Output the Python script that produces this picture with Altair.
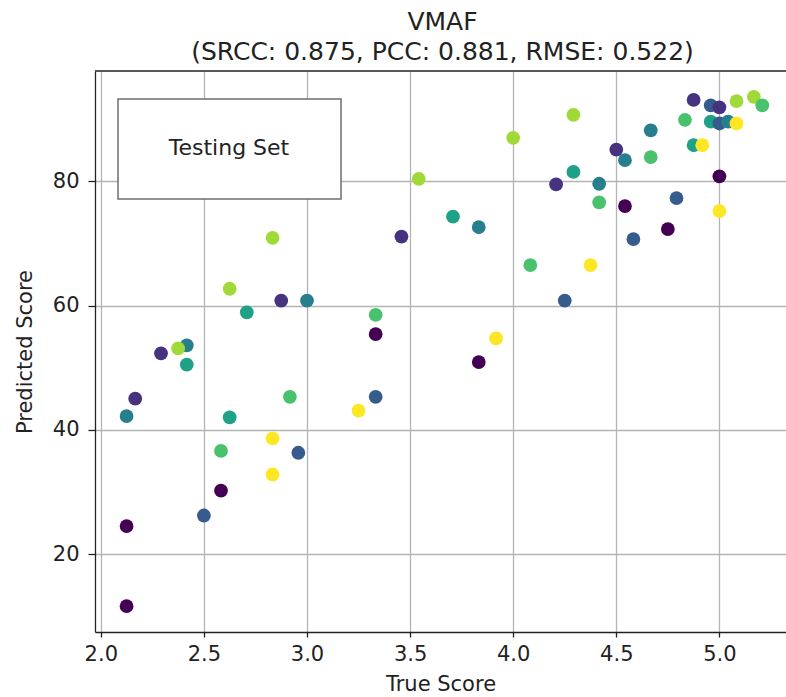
import altair as alt
import pandas as pd

# Test-set predictions: subjective (true) score vs. VMAF predicted score
true_score = [
    3.542, 3.458, 2.833, 2.625, 2.875, 3.000, 2.708, 3.333, 3.333, 2.417,
    2.375, 2.292, 2.417, 2.167, 2.125, 2.917, 3.333, 3.250, 2.625, 2.833,
    2.583, 2.958, 2.833, 2.583, 2.500, 2.125, 2.125, 4.000, 4.292, 4.292,
    4.208, 4.417, 4.417, 4.542, 4.500, 4.542, 4.667, 4.667, 4.833, 4.875,
    4.958, 5.000, 5.083, 5.167, 5.208, 4.958, 5.000, 5.042, 5.083, 4.875,
    4.917, 5.000, 5.000, 4.792, 4.750, 4.583, 3.708, 3.833, 4.083, 4.375,
    4.250, 3.917, 3.833,
]
predicted_score = [
    80.4, 71.1, 70.9, 62.7, 60.8, 60.8, 58.9, 58.5, 55.4, 53.6,
    53.1, 52.3, 50.5, 45.0, 42.2, 45.3, 45.3, 43.1, 42.0, 38.6,
    36.6, 36.3, 32.8, 30.2, 26.2, 24.5, 11.6, 87.0, 90.7, 81.5,
    79.5, 79.6, 76.6, 76.0, 85.1, 83.4, 83.9, 88.2, 89.9, 93.1,
    92.2, 91.9, 92.9, 93.6, 92.2, 89.6, 89.3, 89.6, 89.3, 85.8,
    85.8, 80.8, 75.2, 77.3, 72.3, 70.7, 74.3, 72.6, 66.5, 66.5,
    60.8, 54.7, 50.9,
]
group = [
    6, 1, 6, 6, 1, 3, 4, 5, 0, 3,
    6, 1, 4, 1, 3, 5, 2, 7, 4, 7,
    5, 2, 7, 0, 2, 0, 0, 6, 6, 4,
    1, 3, 5, 0, 1, 3, 5, 3, 5, 1,
    2, 1, 6, 6, 5, 4, 2, 3, 7, 4,
    7, 0, 7, 2, 0, 2, 4, 3, 5, 7,
    2, 7, 0,
]

palette = ["#440154", "#46327e", "#365c8d", "#277f8e",
           "#1fa187", "#4ac16d", "#a0da39", "#fde725"]

x_ticks = [2.0, 2.5, 3.0, 3.5, 4.0, 4.5, 5.0]
y_ticks = [20, 40, 60, 80]

df = pd.DataFrame({"true": true_score, "pred": predicted_score, "group": group})
one = pd.DataFrame({"k": [0]})

W, H = 691, 561
FONT = "DejaVu Sans"
INK = "#222222"

x_scale = alt.Scale(domain=[1.9719, 5.3230], nice=False, zero=False)
y_scale = alt.Scale(domain=[7.45, 97.75], nice=False, zero=False)

points = alt.Chart(df).mark_circle(size=190, opacity=1).encode(
    x=alt.X("true:Q", scale=x_scale, title="True Score",
            axis=alt.Axis(values=x_ticks, format=".1f", labelPadding=6,
                          titlePadding=9, tickSize=5)),
    y=alt.Y("pred:Q", scale=y_scale, title="Predicted Score",
            axis=alt.Axis(values=y_ticks, format="d", labelPadding=9,
                          titlePadding=17, tickSize=7)),
    color=alt.Color("group:O", scale=alt.Scale(domain=list(range(8)), range=palette),
                    legend=None),
)

# top spine (the right side runs off the canvas)
top_spine = alt.Chart(one).mark_rule(color=INK, strokeWidth=1.3).encode(
    x=alt.value(0), x2=alt.value(W), y=alt.value(0)
)

# legend-style label box
legend_box = alt.Chart(one).mark_rect(
    fill="white", stroke="#6e6e6e", strokeWidth=1.5
).encode(x=alt.value(23), x2=alt.value(246), y=alt.value(28), y2=alt.value(128))

legend_text = alt.Chart(one).mark_text(
    text="Testing Set", font=FONT, fontSize=22, color=INK,
    align="center", baseline="middle"
).encode(x=alt.value(134), y=alt.value(77))

chart = (
    alt.layer(points, top_spine, legend_box, legend_text)
    .properties(
        width=W, height=H,
        autosize=alt.AutoSizeParams(type="none"),
        padding={"left": 95, "top": 71, "right": 0, "bottom": 65},
        background="white",
        title=alt.TitleParams(
            text=["VMAF", "(SRCC: 0.875, PCC: 0.881, RMSE: 0.522)"],
            font=FONT, fontSize=25, fontWeight="normal", color=INK,
            lineHeight=30, anchor="middle", frame="group", dx=2, offset=5,
        ),
    )
    .configure_view(stroke=None)
    .configure_axis(
        grid=True, gridColor="#b4b4b4", gridWidth=1.3,
        domainColor=INK, domainWidth=1.3,
        tickColor=INK, tickWidth=1.3,
        labelFont=FONT, labelFontSize=21, labelColor=INK,
        titleFont=FONT, titleFontSize=21, titleFontWeight="normal", titleColor=INK,
    )
)

chart.save("out.html", embed_options={"renderer": "svg", "actions": False})
